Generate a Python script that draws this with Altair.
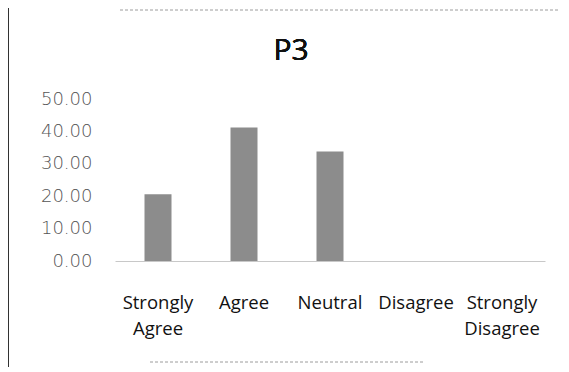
import altair as alt
import pandas as pd

categories = ["Strongly Agree", "Agree", "Neutral", "Disagree", "Strongly Disagree"]
values = [20.6, 41.2, 33.8, 0.0, 0.0]
y_ticks = [0, 10, 20, 30, 40, 50]
title_text = "P3"

df = pd.DataFrame({"cat": categories, "val": values})

bars = alt.Chart(df).mark_bar(color="#8c8c8c", size=27).encode(
    x=alt.X("cat:N", sort=categories, title=None,
            scale=alt.Scale(paddingInner=0.0, paddingOuter=0.0),
            axis=alt.Axis(labelAngle=0, labelExpr="split(datum.label, ' ')",
                          labelFont="Open Sans", labelFontSize=18.5, labelColor="#111",
                          labelPadding=32, labelLineHeight=26, ticks=False,
                          domainColor="#c8c8c8", labelLimit=200)),
    y=alt.Y("val:Q", title=None,
            scale=alt.Scale(domain=[0, 50]),
            axis=alt.Axis(values=y_ticks, format=".2f", grid=False, ticks=False,
                          domain=False, labelFont="DejaVu Sans", labelFontSize=18,
                          labelColor="#555", labelPadding=23, labelFontWeight=200)),
)

title = alt.Chart(df).mark_text(font="Open Sans", fontSize=30, fontWeight="normal",
                                color="#111", baseline="middle", align="center").encode(
    x=alt.value(176), y=alt.value(-48), text=alt.value(title_text)
)

left_border = alt.Chart(df).mark_rule(color="#333", strokeWidth=1.5).encode(
    x=alt.value(-107), y=alt.value(-94), y2=alt.value(268)
)
top_border = alt.Chart(df).mark_rule(color="#cccccc", strokeWidth=1, strokeDash=[3, 2]).encode(
    x=alt.value(5), x2=alt.value(445), y=alt.value(-89)
)
bottom_border = alt.Chart(df).mark_rule(color="#cccccc", strokeWidth=1, strokeDash=[3, 2]).encode(
    x=alt.value(35), x2=alt.value(310), y=alt.value(263)
)

chart = alt.layer(bars, title, left_border, top_border, bottom_border).properties(
    width=430, height=162,
    padding={"left": 107, "top": 91, "right": 16, "bottom": 108},
    autosize=alt.AutoSizeParams(type="none"),
).configure(background="white").configure_view(stroke=None)

chart.save("out.html", embed_options={"renderer": "svg", "actions": False})
